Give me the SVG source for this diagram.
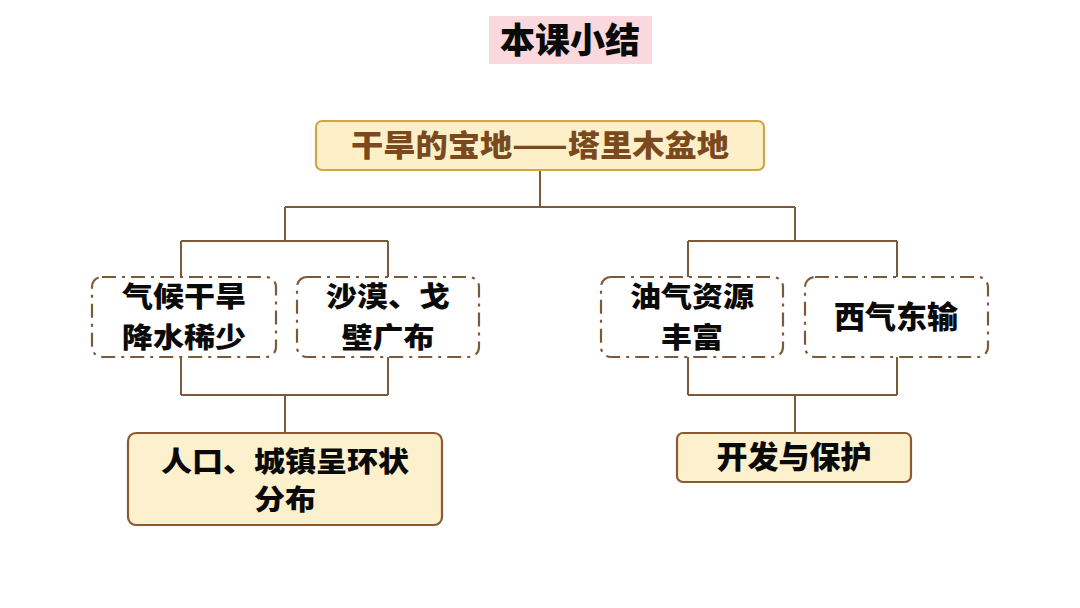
<svg xmlns="http://www.w3.org/2000/svg" width="1080" height="608" viewBox="0 0 1080 608">
<style>
.t{font-family:"Noto Sans CJK SC","Noto Sans CJK JP",sans-serif;font-weight:900;text-anchor:middle;fill:#0a0a0a}
.dash{fill:#fff;stroke:#7b5a3a;stroke-width:2.2;stroke-dasharray:14 6 3 6}
.solid{fill:#fdf0cc;stroke:#8b5a30;stroke-width:2.2}
.ln{stroke:#7b5a3a;stroke-width:2;fill:none}
</style>
<rect width="1080" height="608" fill="#fff"/>
<g id="title">
<rect x="489" y="16" width="163" height="48" fill="#f9d9de"/>
<text class="t" x="570" y="53" font-size="35">本课小结</text>
</g>
<g id="connectors">
<path class="ln" d="M540 170V207M285 207H795M285 207V241M795 207V241M181 241H388M181 241V277M388 241V277M688 241H897M688 241V277M897 241V277"/>
<path class="ln" d="M181 357V395M388 357V395M181 395H388M285 395V433M688 357V395M897 357V395M688 395H897M795 395V433"/>
</g>
<g id="main">
<rect x="316" y="121" width="448" height="49" rx="6" fill="#fdf0c8" stroke="#cfa64e" stroke-width="2.2"/>
<text class="t" x="540" y="156" font-size="30" style="fill:#7a4a1e" textLength="378" lengthAdjust="spacingAndGlyphs">干旱的宝地——塔里木盆地</text>
</g>
<g id="n1">
<rect class="dash" x="92" y="277" width="184" height="80" rx="10"/>
<text class="t" x="184" y="307" font-size="28" textLength="124" lengthAdjust="spacingAndGlyphs">气候干旱</text>
<text class="t" x="184" y="348" font-size="28" textLength="124" lengthAdjust="spacingAndGlyphs">降水稀少</text>
</g>
<g id="n2">
<rect class="dash" x="297" y="277" width="182" height="80" rx="10"/>
<text class="t" x="388" y="307" font-size="28" textLength="124" lengthAdjust="spacingAndGlyphs">沙漠、戈</text>
<text class="t" x="388" y="348" font-size="28" textLength="93" lengthAdjust="spacingAndGlyphs">壁广布</text>
</g>
<g id="n3">
<rect class="dash" x="601" y="277" width="182" height="80" rx="10"/>
<text class="t" x="692" y="307" font-size="28" textLength="124" lengthAdjust="spacingAndGlyphs">油气资源</text>
<text class="t" x="692" y="348" font-size="28" textLength="62" lengthAdjust="spacingAndGlyphs">丰富</text>
</g>
<g id="n4">
<rect class="dash" x="805" y="277" width="183" height="80" rx="10"/>
<text class="t" x="896" y="328" font-size="31">西气东输</text>
</g>
<g id="n5">
<rect class="solid" x="128" y="433" width="314" height="92" rx="8"/>
<text class="t" x="285" y="472" font-size="28" textLength="248" lengthAdjust="spacingAndGlyphs">人口、城镇呈环状</text>
<text class="t" x="285" y="510" font-size="28" textLength="62" lengthAdjust="spacingAndGlyphs">分布</text>
</g>
<g id="n6">
<rect class="solid" x="677" y="433" width="234" height="49" rx="6"/>
<text class="t" x="794" y="468" font-size="31">开发与保护</text>
</g>
</svg>
